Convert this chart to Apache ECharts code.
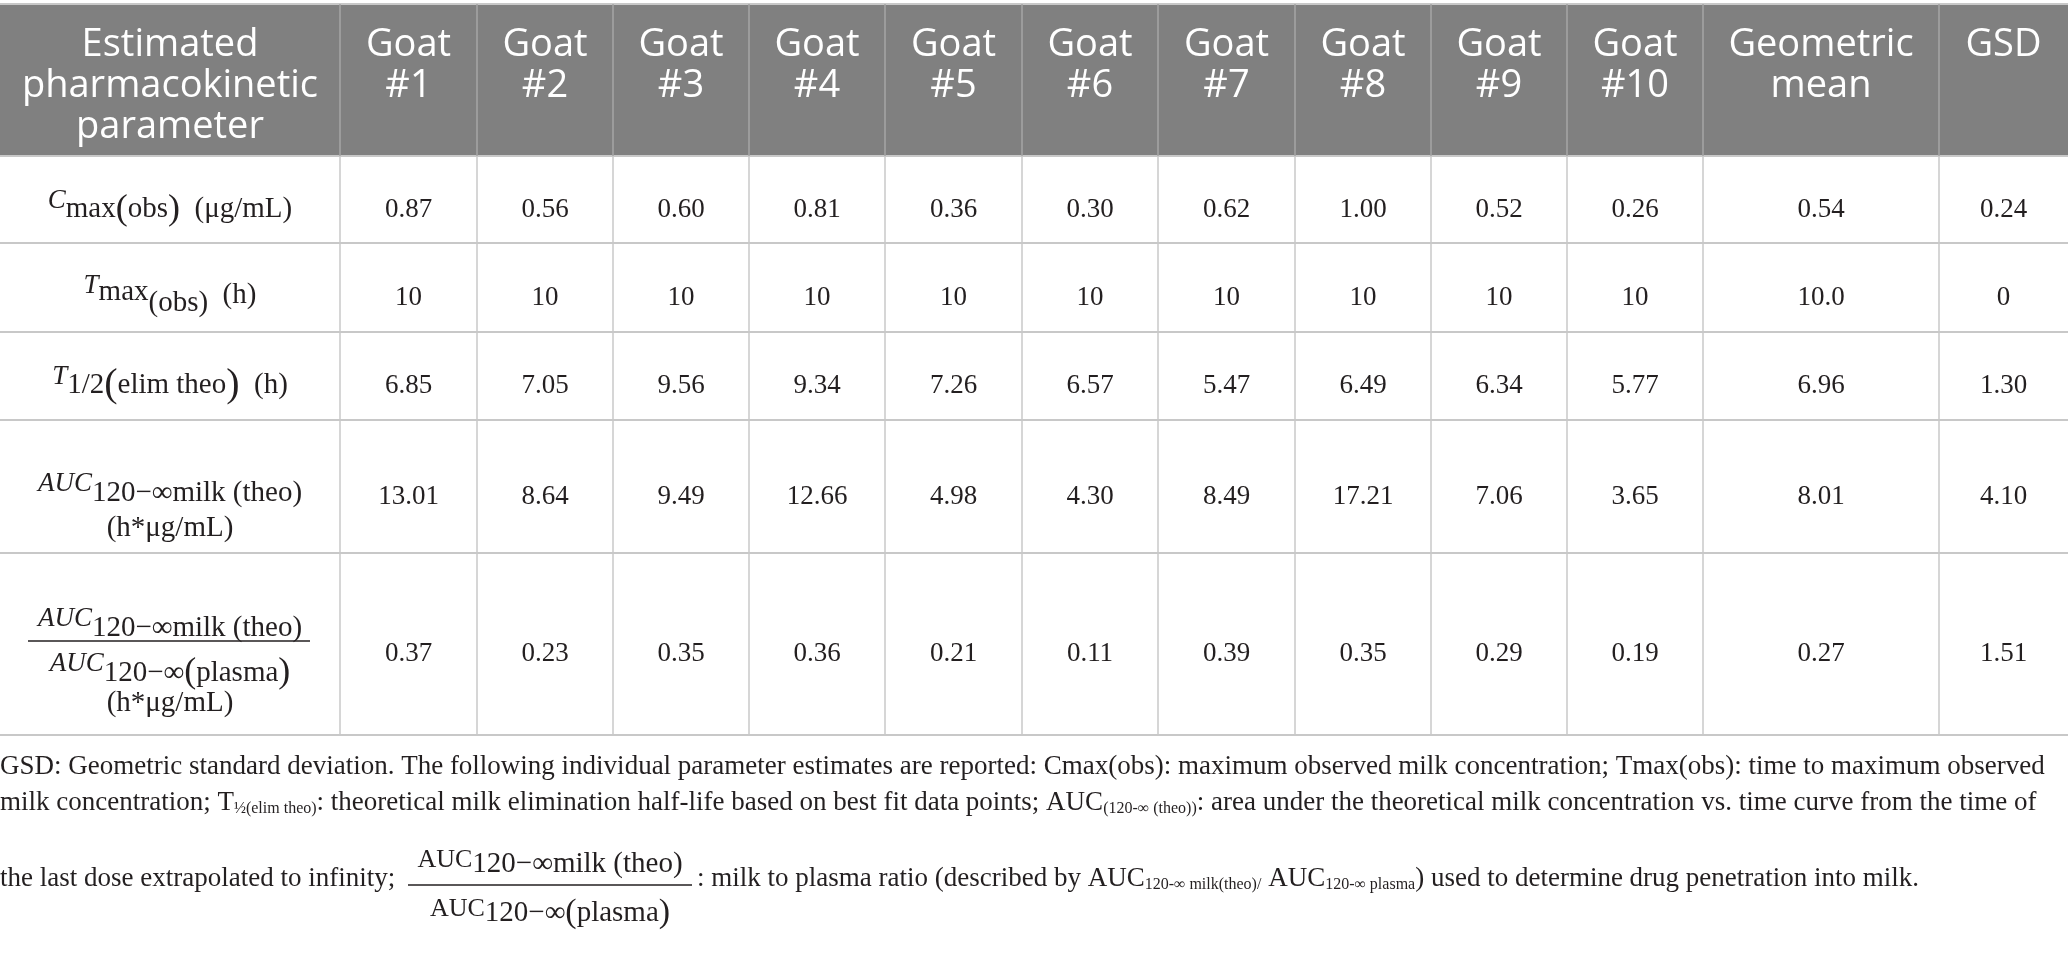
<!DOCTYPE html>
<html>
<head>
<meta charset="utf-8">
<title>Goat milk pharmacokinetics</title>
<script src="https://cdn.jsdelivr.net/npm/echarts@6/dist/echarts.min.js"></script>
<style>
html, body { margin: 0; padding: 0; background: #fff; }
#main { width: 2068px; height: 980px; }
</style>
</head>
<body>
<div id="main"></div>
<script>
// ---- data ----
var columns = ['Estimated\npharmacokinetic\nparameter', 'Goat\n#1', 'Goat\n#2', 'Goat\n#3', 'Goat\n#4', 'Goat\n#5',
    'Goat\n#6', 'Goat\n#7', 'Goat\n#8', 'Goat\n#9', 'Goat\n#10', 'Geometric\nmean', 'GSD'];
// row titles, one string per printed line (rich text)
var paramLabels = [
    ['{iu|C}{n|max}{bp|(}{n|obs}{bp|)}  {n|(μg/mL)}'],
    ['{iu|T}{up|max}{dn|(obs)}  {n|(h)}'],
    ['{iu|T}{n|1/2}{bpl|(}{n|elim theo}{bpl|)}  {n|(h)}'],
    ['{iu|AUC}{n|120−∞milk (theo)}', '{n|(h*μg/mL)}'],
    ['{iu|AUC}{n|120−∞milk (theo)}', '{iu|AUC}{n|120−∞}{bp|(}{n|plasma}{bp|)}', '{n|(h*μg/mL)}']
];
var cmaxObs = [0.87, 0.56, 0.60, 0.81, 0.36, 0.30, 0.62, 1.00, 0.52, 0.26];
var tmaxObs = [10, 10, 10, 10, 10, 10, 10, 10, 10, 10];
var tHalfElim = [6.85, 7.05, 9.56, 9.34, 7.26, 6.57, 5.47, 6.49, 6.34, 5.77];
var aucMilk = [13.01, 8.64, 9.49, 12.66, 4.98, 4.30, 8.49, 17.21, 7.06, 3.65];
var milkPlasmaRatio = [0.37, 0.23, 0.35, 0.36, 0.21, 0.11, 0.39, 0.35, 0.29, 0.19];
var geoMean = [0.54, 10.0, 6.96, 8.01, 0.27];
var gsd = [0.24, 0, 1.30, 4.10, 1.51];
var goatDecimals = [2, 0, 2, 2, 2];
var meanDecimals = [2, 1, 2, 2, 2];
var gsdDecimals = [2, 0, 2, 2, 2];

var footLine1 = 'GSD: Geometric standard deviation. The following individual parameter estimates are reported: Cmax(obs): maximum observed milk concentration; Tmax(obs): time to maximum observed';
var footLine2 = 'milk concentration; T{s|½(elim theo)}: theoretical milk elimination half-life based on best fit data points; AUC{s|(120-∞ (theo))}: area under the theoretical milk concentration vs. time curve from the time of';
var footLine3a = 'the last dose extrapolated to infinity;';
var footNum = '{a|AUC}{f|120−∞milk (theo)}';
var footDen = '{a|AUC}{f|120−∞}{p|(}{f|plasma}{p|)}';
var footLine3b = ': milk to plasma ratio (described by AUC{s|120-∞ milk(theo)/} AUC{s|120-∞ plasma}) used to determine drug penetration into milk.';

// ---- layout (axis units = pixels) ----
var colEdges = [0, 340, 477, 613, 749, 885, 1022, 1158, 1295, 1431, 1567, 1703, 1939, 2068];
var rowEdges = [4, 156, 243, 332, 420, 553, 735];
var labelLineDy = [[10], [7.5], [9.5], [6.5, 41.5], [-16, 29, 59]];

var SERIF = '"Liberation Serif", "Times New Roman", serif';
var SANS = '"Open Sans", "Noto Sans", sans-serif';
var INK = '#231f20';
var HEAD_BG = '#808080';

function richPart(size, shift, italic) {
    var s = {fontSize: size, fontFamily: SERIF, lineHeight: 44};
    if (italic) s.fontStyle = 'italic';
    if (shift < 0) s.padding = [0, 0, -2 * shift, 0];
    if (shift > 0) s.padding = [2 * shift, 0, 0, 0];
    return s;
}
var labelRich = {
    n: richPart(29, 0),
    iu: richPart(27, -9, true),
    up: richPart(29, -3),
    dn: richPart(29, 8),
    bp: richPart(36, 0),
    bpl: richPart(40, 0)
};

// 表格单元
var rowValues = [cmaxObs, tmaxObs, tHalfElim, aucMilk, milkPlasmaRatio];
var cells = [];
var cellData = [];
for (var r = 0; r < rowEdges.length - 1; r++) {
    for (var c = 0; c < colEdges.length - 1; c++) {
        var cell = {row: r, col: c};
        if (r === 0) {
            cell.kind = 'head';
            cell.text = columns[c];
        } else if (c === 0) {
            cell.kind = 'label';
            cell.lines = paramLabels[r - 1];
        } else {
            cell.kind = 'num';
            if (c <= 10) cell.text = rowValues[r - 1][c - 1].toFixed(goatDecimals[r - 1]);
            else if (c === 11) cell.text = geoMean[r - 1].toFixed(meanDecimals[r - 1]);
            else cell.text = gsd[r - 1].toFixed(gsdDecimals[r - 1]);
        }
        cells.push(cell);
        cellData.push([colEdges[c], rowEdges[r], colEdges[c + 1], rowEdges[r + 1]]);
    }
}

// 网格线
var lineData = [];
for (var i = 0; i < rowEdges.length; i++) {
    lineData.push([0, rowEdges[i], 2068, rowEdges[i], 0]);
}
for (var j = 1; j < colEdges.length - 1; j++) {
    lineData.push([colEdges[j], rowEdges[0], colEdges[j], rowEdges[1], 1]);
    lineData.push([colEdges[j], rowEdges[1], colEdges[j], rowEdges[rowEdges.length - 1], 2]);
}
var lineStyles = [
    {stroke: '#c8c8c8', lineWidth: 2},
    {stroke: '#a6a6a6', lineWidth: 1.5},
    {stroke: '#c8c8c8', lineWidth: 1.5}
];

function renderCell(params, api) {
    var cell = cells[params.dataIndex];
    var p0 = api.coord([api.value(0), api.value(1)]);
    var p1 = api.coord([api.value(2), api.value(3)]);
    var w = p1[0] - p0[0], h = p1[1] - p0[1];
    var cx = p0[0] + w / 2, cy = p0[1] + h / 2;
    var children = [{
        type: 'rect',
        shape: {x: p0[0], y: p0[1], width: w, height: h},
        style: {fill: cell.kind === 'head' ? HEAD_BG : '#fff'}
    }];
    if (cell.kind === 'head') {
        children.push({
            type: 'text', x: cx, y: p0[1] + 21,
            style: {text: cell.text, fill: '#fff', fontSize: 38, fontFamily: SANS,
                lineHeight: 41, align: 'center', verticalAlign: 'top'}
        });
    } else if (cell.kind === 'label') {
        var dys = labelLineDy[cell.row - 1];
        for (var k = 0; k < cell.lines.length; k++) {
            children.push({
                type: 'text', x: cx, y: cy + dys[k],
                style: {text: cell.lines[k], fill: INK, fontSize: 29, fontFamily: SERIF,
                    lineHeight: 44, align: 'center', verticalAlign: 'middle', rich: labelRich}
            });
        }
        // 分数线
        if (cell.lines.length === 3) {
            children.push({
                type: 'line',
                shape: {x1: p0[0] + 28, y1: cy - 3, x2: p1[0] - 30, y2: cy - 3},
                style: {stroke: INK, lineWidth: 1.5}
            });
        }
    } else {
        children.push({
            type: 'text', x: cx, y: cy + 10,
            style: {text: cell.text, fill: INK, fontSize: 27, fontFamily: SERIF,
                align: 'center', verticalAlign: 'middle'}
        });
    }
    return {type: 'group', children: children};
}

function renderLine(params, api) {
    var a = api.coord([api.value(0), api.value(1)]);
    var b = api.coord([api.value(2), api.value(3)]);
    return {
        type: 'line',
        shape: {x1: a[0], y1: a[1], x2: b[0], y2: b[1]},
        style: lineStyles[api.value(4)]
    };
}

var footRich = {
    s: {fontSize: 16, fontFamily: SERIF, lineHeight: 34, padding: [12, 0, 0, 0]},
    a: {fontSize: 26, fontFamily: SERIF, lineHeight: 34, padding: [0, 0, 8, 0]},
    f: {fontSize: 29, fontFamily: SERIF, lineHeight: 34},
    p: {fontSize: 34, fontFamily: SERIF, lineHeight: 34}
};
function footText(text, x, y, align) {
    return {
        type: 'text', x: x, y: y, silent: true,
        style: {text: text, fill: INK, fontSize: 27, fontFamily: SERIF, lineHeight: 34,
            align: align, textAlign: align, verticalAlign: 'middle', textVerticalAlign: 'middle', rich: footRich}
    };
}

var chart = echarts.init(document.getElementById('main'));
chart.setOption({
    animation: false,
    backgroundColor: '#fff',
    grid: {left: 0, right: 0, top: 0, bottom: 0},
    xAxis: {type: 'value', min: 0, max: 2068, show: false},
    yAxis: {type: 'value', min: 0, max: 980, inverse: true, show: false},
    graphic: [
        footText(footLine1, 0, 767, 'left'),
        footText(footLine2, 0, 803, 'left'),
        footText(footLine3a, 0, 879, 'left'),
        footText(footNum, 550, 864, 'center'),
        {type: 'line', shape: {x1: 408, y1: 885, x2: 692, y2: 885}, style: {stroke: INK, lineWidth: 1.5}},
        footText(footDen, 550, 913, 'center'),
        footText(footLine3b, 697, 879, 'left')
    ],
    series: [{
        type: 'custom',
        name: 'cells',
        renderItem: renderCell,
        encode: {x: [0, 2], y: [1, 3]},
        data: cellData,
        z: 2
    }, {
        type: 'custom',
        name: 'rules',
        renderItem: renderLine,
        encode: {x: [0, 2], y: [1, 3]},
        data: lineData,
        z: 3
    }]
});
</script>
</body>
</html>
